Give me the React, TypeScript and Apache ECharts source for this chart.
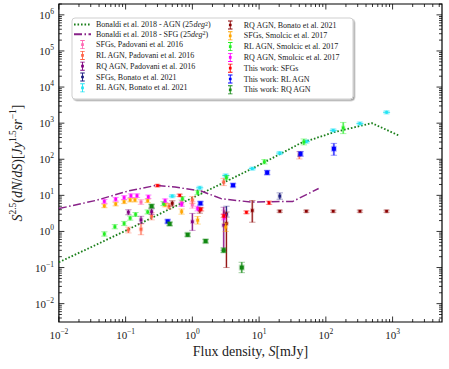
import React, { useEffect, useRef } from 'react';
import * as echarts from 'echarts';

const FONT = 'Liberation Serif';

// Axis ranges
const xMin = 0.01;
const xMax = 5500;
const yMin = 0.0031;
const yMax = 2.0e6;

// Model curves [S (mJy), S^2.5 dN/dS]
const bonaldiAgn = [
  [0.01, 0.14], [0.0316, 0.38], [0.1, 1.05], [1, 8.5], [3.16, 24], [10, 69],
  [20, 135], [42, 280], [132, 560], [490, 1000], [1290, 440],
];
const bonaldiSfg = [
  [0.01, 4.3], [0.0355, 7.2], [0.11, 13.2], [0.29, 19], [0.55, 17], [1.35, 13.2],
  [2.7, 8.1], [7.6, 6.5], [32, 6.8], [78, 15.5],
];

// Data points [S, value, lower, upper]
const padSfg = [
  [0.17, 6.5, 5.6, 7.6], [0.69, 6.4, 5.4, 7.5], [1.0, 5.4, 4.4, 6.6], [3.0, 3.2, 2.6, 3.9],
];
const padRl = [
  [0.11, 1.1, 0.91, 1.32], [0.17, 1.15, 0.81, 1.62], [0.245, 2.63, 2.09, 3.31],
  [0.447, 5.0, 4.2, 6.0], [1.0, 7.4, 5.9, 9.3], [2.95, 23.4, 18.6, 29.5], [40, 129, 102, 162],
];
const padRq = [
  [0.11, 3.4, 2.9, 4.0], [0.17, 2.1, 1.66, 2.63], [0.245, 3.55, 2.95, 4.27],
  [1.0, 1.86, 1.07, 3.16], [2.95, 1.48, 0.3, 4.68],
];
const bonSfg = [
  [3.24, 3.0, 2.5, 5.0], [20.4, 9.5, 7.8, 11.7],
];
const bonRl = [
  [0.5, 9.5, 8.6, 10.5], [1.29, 16.2, 14.7, 17.8], [3.16, 35.5, 32, 39], [7.9, 55, 50, 60],
  [20.4, 148, 135, 163], [51, 309, 280, 340], [129, 631, 574, 694], [324, 977, 888, 1075],
  [813, 1995, 1810, 2190],
];
const bonRq = [
  [0.5, 6.0, 5.0, 7.1], [1.29, 3.9, 3.2, 4.6], [3.24, 1.66, 0.1, 3.47], [7.9, 3.8, 1.8, 7.2],
  [20.4, 3.63, 3.4, 3.9], [51, 3.63, 3.4, 3.9], [129, 3.63, 3.4, 3.9], [324, 3.63, 3.4, 3.9],
  [813, 3.63, 3.4, 3.9],
];
const smoSfg = [
  [0.048, 5.1, 4.55, 5.7], [0.071, 5.75, 5.1, 6.4], [0.095, 6.6, 5.9, 7.4], [0.117, 7.4, 6.6, 8.3],
  [0.138, 7.4, 6.6, 8.3], [0.214, 7.1, 6.3, 7.9], [0.39, 5.4, 4.8, 6.0], [0.69, 3.55, 3.0, 4.2],
  [1.2, 2.04, 1.6, 2.6], [3.16, 1.32, 1.0, 1.7],
];
const smoRl = [
  [0.048, 0.85, 0.74, 0.98], [0.069, 1.35, 1.18, 1.55], [0.095, 1.66, 1.45, 1.9],
  [0.117, 2.34, 2.05, 2.68], [0.141, 2.95, 2.6, 3.35], [0.214, 3.47, 3.05, 3.95],
  [0.37, 5.9, 5.2, 6.7], [0.71, 8.1, 7.1, 9.2], [1.2, 12, 10.5, 13.7], [3.24, 30.9, 27, 35.5],
  [12, 85, 74, 98], [46.8, 302, 250, 365], [182, 741, 513, 1047],
];
const smoRq = [
  [0.048, 6.8, 6.0, 7.7], [0.071, 7.8, 6.9, 8.8], [0.095, 8.7, 7.7, 9.8], [0.12, 9.8, 8.7, 11.0],
  [0.148, 9.8, 8.7, 11.0], [0.219, 9.1, 8.1, 10.2], [0.39, 7.1, 6.3, 8.0], [0.69, 5.6, 4.9, 6.4],
  [1.2, 4.3, 3.7, 5.0], [3.0, 2.5, 2.1, 3.0],
];
const thisSfg = [
  [0.3, 18.6, 17.3, 20], [0.646, 10, 9.3, 10.8], [1.35, 4.1, 3.7, 4.5], [2.95, 2.7, 2.4, 3.0],
  [6.46, 3.4, 3.1, 3.7], [14.1, 6.2, 5.6, 6.9],
];
const thisRl = [
  [0.427, 1.9, 1.7, 2.1], [1.32, 6.0, 5.4, 6.7], [4.07, 19, 17.2, 21], [13.2, 42.7, 37.5, 48.5],
  [41.7, 141, 122, 163], [132, 195, 129, 275],
];
const thisRq = [
  [0.245, 5.0, 4.5, 5.6], [0.457, 1.62, 1.45, 1.8], [0.85, 0.81, 0.73, 0.9], [1.58, 0.54, 0.48, 0.6],
  [2.95, 0.3, 0.26, 0.35], [5.5, 0.1, 0.072, 0.14],
];

const AGN_NAME = 'Bonaldi et al. 2018 - AGN (25deg2)';
const SFG_NAME = 'Bonaldi et al. 2018 - SFG (25deg2)';

const pointSeries = [
  { name: 'SFGs, Padovani et al. 2016', color: '#ff69b4', data: padSfg, big: false, hbar: false },
  { name: 'RL AGN, Padovani et al. 2016', color: '#ff6347', data: padRl, big: false, hbar: false },
  { name: 'RQ AGN, Padovani et al. 2016', color: '#800080', data: padRq, big: false, hbar: false },
  { name: 'SFGs, Bonato et al. 2021', color: '#1c1c80', data: bonSfg, big: false, hbar: false },
  { name: 'RL AGN, Bonato et al. 2021', color: '#22e4f4', data: bonRl, big: false, hbar: true },
  { name: 'RQ AGN, Bonato et al. 2021', color: '#8b0000', data: bonRq, big: false, hbar: false },
  { name: 'SFGs, Smolcic et al. 2017', color: '#ffa500', data: smoSfg, big: false, hbar: false },
  { name: 'RL AGN, Smolcic et al. 2017', color: '#22ee22', data: smoRl, big: false, hbar: false },
  { name: 'RQ AGN, Smolcic et al. 2017', color: '#ff00ff', data: smoRq, big: false, hbar: false },
  { name: 'This work: SFGs', color: '#ff0000', data: thisSfg, big: false, hbar: false },
  { name: 'This work: RL AGN', color: '#0000ff', data: thisRl, big: true, hbar: false },
  { name: 'This work: RQ AGN', color: '#118811', data: thisRq, big: true, hbar: false },
];

const ERR_ICON = 'path://M0,0h5v1h-5zM2,0h1v10h-1zM0,9h5v1h-5zM1,3.5h3v3h-3z';

function tickValues(lo: number, hi: number) {
  const major: number[] = [];
  const minor: number[] = [];
  for (let e = Math.floor(Math.log10(lo)); e <= Math.ceil(Math.log10(hi)); e++) {
    for (let m = 1; m <= 9; m++) {
      const v = m * Math.pow(10, e);
      if (v < lo * 0.999 || v > hi * 1.001) continue;
      (m === 1 ? major : minor).push(v);
    }
  }
  return { major, minor };
}

const supLabel = (v: number) => {
  const e = Math.log10(v);
  const r = Math.round(e);
  if (Math.abs(e - r) > 1e-6) return '';
  return `{b|10}{s|${r < 0 ? '\u2212' + -r : r}}`;
};

const labelRich = {
  b: { fontFamily: FONT, fontSize: 11, lineHeight: 15, color: '#222' },
  s: { fontFamily: FONT, fontSize: 7.5, lineHeight: 8, verticalAlign: 'top', color: '#222' },
};

export default function App() {
  const ref = useRef<HTMLDivElement>(null);
  useEffect(() => {
    if (!ref.current) return;
    const chart = echarts.init(ref.current, null, { renderer: 'svg' });
    const xt = tickValues(xMin, xMax);
    const yt = tickValues(yMin, yMax);

    const errSeries = pointSeries.map((def) => ({
      type: 'custom',
      name: def.name,
      coordinateSystem: 'cartesian2d',
      itemStyle: { color: def.color },
      encode: { x: 0, y: [1, 2, 3] },
      clip: true,
      z: 3,
      data: def.data,
      renderItem: (params: any, api: any) => {
        const x = api.value(0);
        const p = api.coord([x, api.value(1)]);
        const pl = api.coord([x, api.value(2)]);
        const ph = api.coord([x, api.value(3)]);
        const c = def.color;
        const cap = 3.2;
        const core = def.big ? 4 : 2.6;
        const halo = def.big ? 6 : 4.4;
        const children: any[] = [
          { type: 'line', shape: { x1: p[0], y1: pl[1], x2: p[0], y2: ph[1] }, style: { stroke: c, lineWidth: 2.6, opacity: 0.2 } },
          { type: 'line', shape: { x1: p[0], y1: pl[1], x2: p[0], y2: ph[1] }, style: { stroke: c, lineWidth: 1.1, opacity: 0.9 } },
          { type: 'line', shape: { x1: p[0] - cap, y1: pl[1], x2: p[0] + cap, y2: pl[1] }, style: { stroke: c, lineWidth: 1, opacity: 0.4 } },
          { type: 'line', shape: { x1: p[0] - cap, y1: ph[1], x2: p[0] + cap, y2: ph[1] }, style: { stroke: c, lineWidth: 1, opacity: 0.4 } },
        ];
        if (def.hbar) {
          children.push({ type: 'line', shape: { x1: p[0] - 3.5, y1: p[1], x2: p[0] + 3.5, y2: p[1] }, style: { stroke: c, lineWidth: 1.2, opacity: 0.8 } });
        }
        children.push({ type: 'rect', shape: { x: p[0] - halo / 2, y: p[1] - halo / 2, width: halo, height: halo }, style: { fill: c, opacity: 0.25 } });
        children.push({ type: 'rect', shape: { x: p[0] - core / 2, y: p[1] - core / 2, width: core, height: core }, style: { fill: c } });
        return { type: 'group', children };
      },
    }));

    const tickSeries = {
      type: 'custom',
      name: '__ticks',
      coordinateSystem: 'cartesian2d',
      clip: false,
      silent: true,
      z: 5,
      data: [[1, 1]],
      renderItem: (params: any, api: any) => {
        const children: any[] = [];
        const s = { stroke: '#000', lineWidth: 0.8 };
        const bottom = api.coord([xMin, yMin])[1];
        const top = api.coord([xMin, yMax])[1];
        const left = api.coord([xMin, yMin])[0];
        const right = api.coord([xMax, yMin])[0];
        const addX = (v: number, len: number) => {
          const px = api.coord([v, yMin])[0];
          children.push({ type: 'line', shape: { x1: px, y1: bottom, x2: px, y2: bottom - len }, style: s });
          children.push({ type: 'line', shape: { x1: px, y1: top, x2: px, y2: top + len }, style: s });
        };
        const addY = (v: number, len: number) => {
          const py = api.coord([xMin, v])[1];
          children.push({ type: 'line', shape: { x1: left, y1: py, x2: left + len, y2: py }, style: s });
          children.push({ type: 'line', shape: { x1: right, y1: py, x2: right - len, y2: py }, style: s });
        };
        xt.major.forEach((v) => addX(v, 5.5));
        xt.minor.forEach((v) => addX(v, 3));
        yt.major.forEach((v) => addY(v, 5.5));
        yt.minor.forEach((v) => addY(v, 3));
        return { type: 'group', children };
      },
    };

    const legendText = {
      fontFamily: FONT,
      fontSize: 8,
      color: '#222',
      rich: {
        i: { fontFamily: FONT, fontSize: 8, fontStyle: 'italic', color: '#222' },
        s: { fontFamily: FONT, fontSize: 6, verticalAlign: 'top', lineHeight: 6, color: '#222' },
      },
    };
    const legendFormatter = (name: string) =>
      name.endsWith('(25deg2)') ? name.replace('(25deg2)', '(25{i|deg}{s|2})') : name;

    const leftNames = [
      { name: AGN_NAME, itemStyle: { opacity: 0 } },
      { name: SFG_NAME, itemStyle: { opacity: 0 } },
      ...pointSeries.slice(0, 5).map((d) => ({ name: d.name, icon: ERR_ICON })),
    ];
    const rightNames = pointSeries.slice(5).map((d) => ({ name: d.name, icon: ERR_ICON }));

    chart.setOption({
      animation: false,
      grid: { left: 56, top: 4, width: 386, height: 318, show: true, borderColor: '#000', borderWidth: 1.2, backgroundColor: 'transparent' },
      graphic: [
        {
          type: 'rect',
          z: 3,
          shape: { x: 72, y: 18, width: 281, height: 81, r: 3 },
          style: { fill: '#fff', stroke: '#cfcfcf', lineWidth: 1, shadowColor: 'rgba(0,0,0,0.35)', shadowOffsetX: 1.5, shadowOffsetY: 1.5, shadowBlur: 1 },
        },
      ],
      legend: [
        {
          orient: 'vertical', left: 73, top: 20.5, padding: 0, itemWidth: 17, itemHeight: 9, itemGap: 1.8,
          selectedMode: false, data: leftNames, textStyle: legendText, formatter: legendFormatter, symbolKeepAspect: true,
        },
        {
          orient: 'vertical', left: 228, top: 20.5, padding: 0, itemWidth: 17, itemHeight: 9, itemGap: 1.8,
          selectedMode: false, data: rightNames, textStyle: legendText, formatter: legendFormatter, symbolKeepAspect: true,
        },
      ],
      xAxis: {
        type: 'log', logBase: 10, min: xMin, max: xMax,
        axisLine: { show: false }, axisTick: { show: false }, splitLine: { show: false },
        axisLabel: { formatter: supLabel, rich: labelRich, margin: 5, showMinLabel: true, showMaxLabel: false },
        name: '{n|Flux density, }{i|S}{n|[mJy]}',
        nameLocation: 'middle', nameGap: 22,
        nameTextStyle: {
          rich: {
            n: { fontFamily: FONT, fontSize: 14, color: '#222' },
            i: { fontFamily: FONT, fontSize: 14, fontStyle: 'italic', color: '#222' },
          },
        },
      },
      yAxis: {
        type: 'log', logBase: 10, min: yMin, max: yMax,
        axisLine: { show: false }, axisTick: { show: false }, splitLine: { show: false },
        axisLabel: { formatter: supLabel, rich: labelRich, margin: 5, showMinLabel: false, showMaxLabel: false },
        name: '{i|S}{s|2.5}{n|(}{i|dN}{n|/}{i|dS}{n|)[}{i|Jy}{s|1.5}{i|sr}{s|\u22121}{n|]}',
        nameLocation: 'middle', nameGap: 32,
        nameTextStyle: {
          rich: {
            n: { fontFamily: FONT, fontSize: 14, lineHeight: 18, color: '#222' },
            i: { fontFamily: FONT, fontSize: 14, lineHeight: 18, fontStyle: 'italic', color: '#222' },
            s: { fontFamily: FONT, fontSize: 9.5, lineHeight: 10, verticalAlign: 'top', color: '#222' },
          },
        },
      },
      series: [
        {
          type: 'line', name: AGN_NAME, data: bonaldiAgn, symbol: 'none', z: 2,
          lineStyle: { color: '#1a7f1a', width: 1.8, type: [1.6, 1.9] },
          itemStyle: { color: '#1a7f1a' },
        },
        {
          type: 'line', name: SFG_NAME, data: bonaldiSfg, symbol: 'none', z: 2,
          lineStyle: { color: '#882288', width: 1.5, type: [8, 2.5, 1.5, 2.5] },
          itemStyle: { color: '#882288' },
        },
        ...errSeries,
        tickSeries,
      ],
    });
    return () => chart.dispose();
  }, []);
  return <div ref={ref} style={{ position: 'absolute', left: 0, top: 0, width: 449, height: 369 }} />;
}
